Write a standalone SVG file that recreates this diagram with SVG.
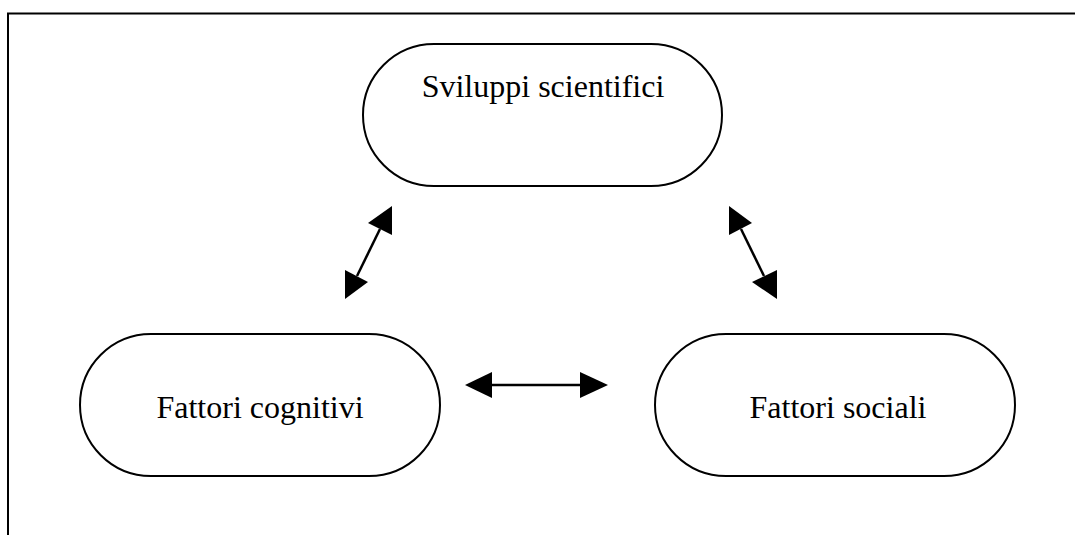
<svg xmlns="http://www.w3.org/2000/svg" width="1075" height="535" viewBox="0 0 1075 535">
<style>
.node{fill:#fff;stroke:#000;stroke-width:2}
.lbl{font-family:"Liberation Serif","Times New Roman",serif;font-size:32px;fill:#000;text-anchor:middle}
.conn{stroke:#000;stroke-width:2.5;fill:none}
.head{fill:#000}
</style>
<rect width="1075" height="535" fill="#fff"/>
<path d="M8 535 V13.5 H1075" fill="none" stroke="#000" stroke-width="2"/>
<g id="sviluppi">
<rect class="node" x="363" y="44" width="359" height="142" rx="71" ry="71"/>
<text class="lbl" x="543" y="97">Sviluppi scientifici</text>
</g>
<g id="cognitivi">
<rect class="node" x="80" y="334" width="360" height="142" rx="71" ry="71"/>
<text class="lbl" x="260" y="418">Fattori cognitivi</text>
</g>
<g id="sociali">
<rect class="node" x="655" y="334" width="360" height="142" rx="71" ry="71"/>
<text class="lbl" x="838" y="418">Fattori sociali</text>
</g>
<g id="connectors">
<line class="conn" x1="380" y1="229" x2="357" y2="276"/>
<polygon class="head" points="392,206 368,223 392,235"/>
<polygon class="head" points="345,299 345,270 368,282"/>
<line class="conn" x1="741" y1="229" x2="764" y2="276"/>
<polygon class="head" points="729,206 729,235 752,223"/>
<polygon class="head" points="777,299 777,270 752,282"/>
<line class="conn" x1="490" y1="385" x2="582" y2="385"/>
<polygon class="head" points="465,385 492,372 492,398"/>
<polygon class="head" points="608,385 580,372 580,398"/>
</g>
</svg>
